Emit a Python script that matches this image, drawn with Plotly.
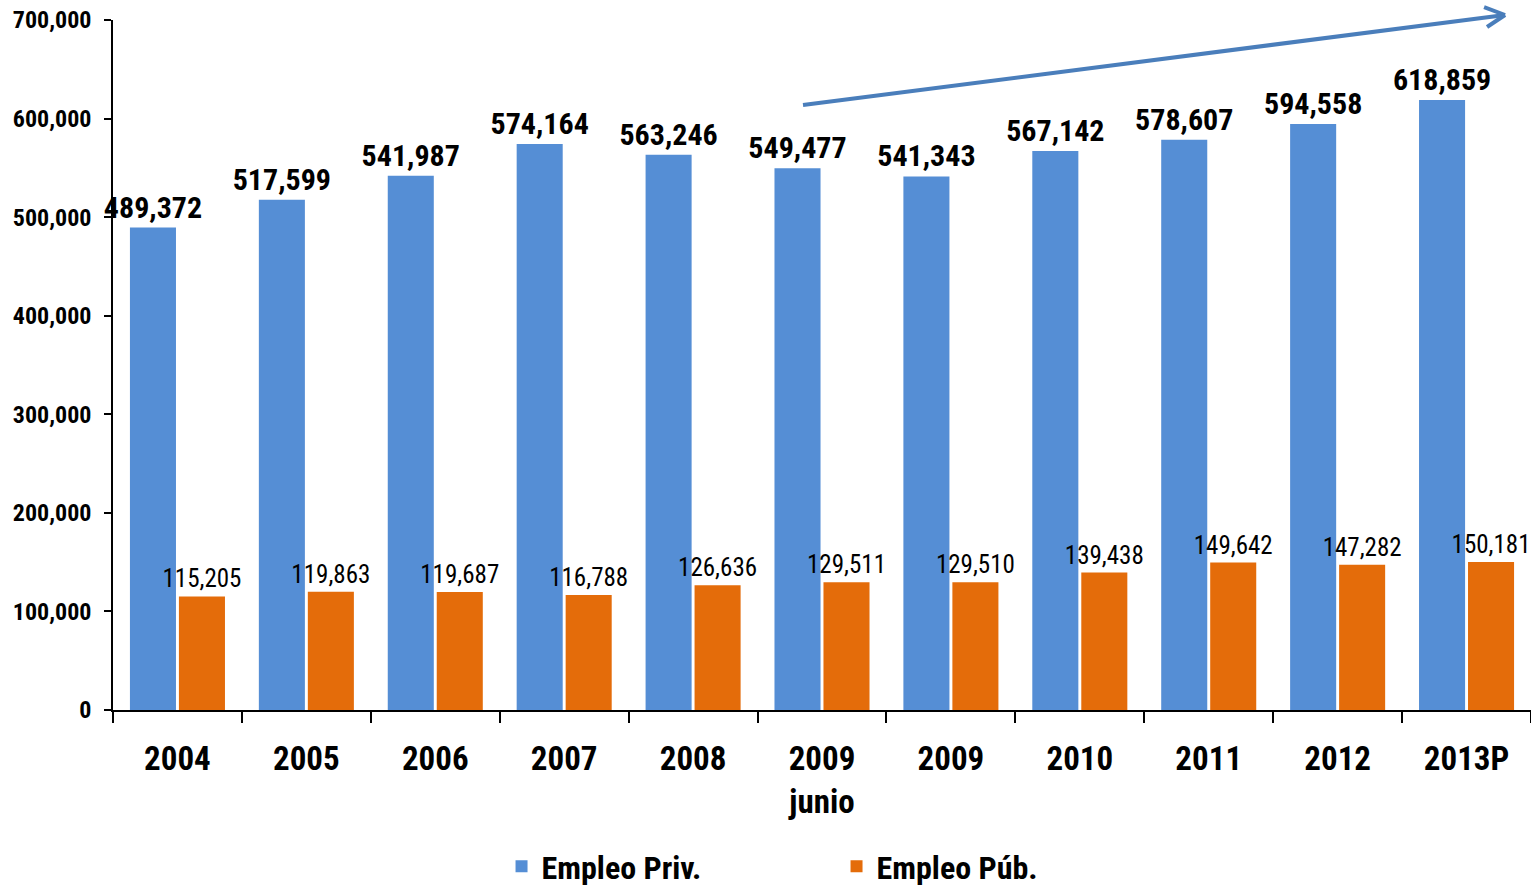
import plotly.graph_objects as go

categories = ["2004", "2005", "2006", "2007", "2008", "2009<br>junio", "2009",
              "2010", "2011", "2012", "2013P"]
empleo_priv = [489372, 517599, 541987, 574164, 563246, 549477, 541343,
               567142, 578607, 594558, 618859]
empleo_pub = [115205, 119863, 119687, 116788, 126636, 129511, 129510,
              139438, 149642, 147282, 150181]
y_ticks = [0, 100000, 200000, 300000, 400000, 500000, 600000, 700000]

FONT = "Roboto Condensed, Liberation Sans, Arial, sans-serif"
BLUE = "#558ed5"
ORANGE = "#e46c0a"
ARROW = "#4a7ebb"

fig = go.Figure()
fig.add_trace(go.Bar(
    name="Empleo Priv.", x=categories, y=empleo_priv,
    marker=dict(color=BLUE, line=dict(width=0)),
    text=[f"{v:,}" for v in empleo_priv], textposition="outside",
    textfont=dict(family=FONT, size=30, color="black", weight="bold"),
    constraintext="none", cliponaxis=False,
))
fig.add_trace(go.Bar(
    name="Empleo Púb.", x=categories, y=empleo_pub,
    marker=dict(color=ORANGE, line=dict(width=0)),
    text=[f"{v:,}" for v in empleo_pub], textposition="outside",
    textfont=dict(family=FONT, size=25, color="black"),
    constraintext="none", cliponaxis=False,
))

# trend arrow (decorative, paper coordinates)
line_kw = dict(type="line", xref="paper", yref="paper",
               line=dict(color=ARROW, width=4))
fig.add_shape(x0=0.4866, y0=0.8768, x1=0.9817, y1=1.00725, **line_kw)
fig.add_shape(x0=0.9669, y0=1.0188, x1=0.9817, y1=1.00725, **line_kw)
fig.add_shape(x0=0.9690, y0=0.9899, x1=0.9817, y1=1.00725, **line_kw)

fig.update_layout(
    width=1531, height=888,
    margin=dict(l=113, r=0, t=20, b=178, autoexpand=False),
    paper_bgcolor="white", plot_bgcolor="white",
    barmode="group", bargap=0.24, bargroupgap=0.06,
    font=dict(family=FONT, color="black"),
    showlegend=True,
    legend=dict(orientation="h", x=0.274, xanchor="left", y=-0.187, yanchor="top",
                font=dict(family=FONT, size=32, color="black", weight="bold"),
                entrywidth=290, entrywidthmode="pixels", itemsizing="constant"),
    xaxis=dict(
        type="category", range=[-0.5, 10.5], automargin=False,
        showline=True, linecolor="black", linewidth=1.5,
        ticks="outside", tickson="boundaries", ticklen=11, tickcolor="black", tickwidth=1.5,
        tickfont=dict(family=FONT, size=33, color="black", weight="bold"),
        ticklabelstandoff=19, showgrid=False,
    ),
    yaxis=dict(
        range=[0, 700000], tickvals=y_ticks, automargin=False,
        ticktext=[f"{v:,}" for v in y_ticks],
        showline=True, linecolor="black", linewidth=1.5,
        ticks="outside", ticklen=7, tickcolor="black", tickwidth=1.5,
        tickfont=dict(family=FONT, size=24, color="black", weight="bold"),
        ticklabelstandoff=8, showgrid=False, zeroline=False,
    ),
)

fig.write_html("out.html", config={"displayModeBar": False},
               post_script="document.body.style.margin='0';")
